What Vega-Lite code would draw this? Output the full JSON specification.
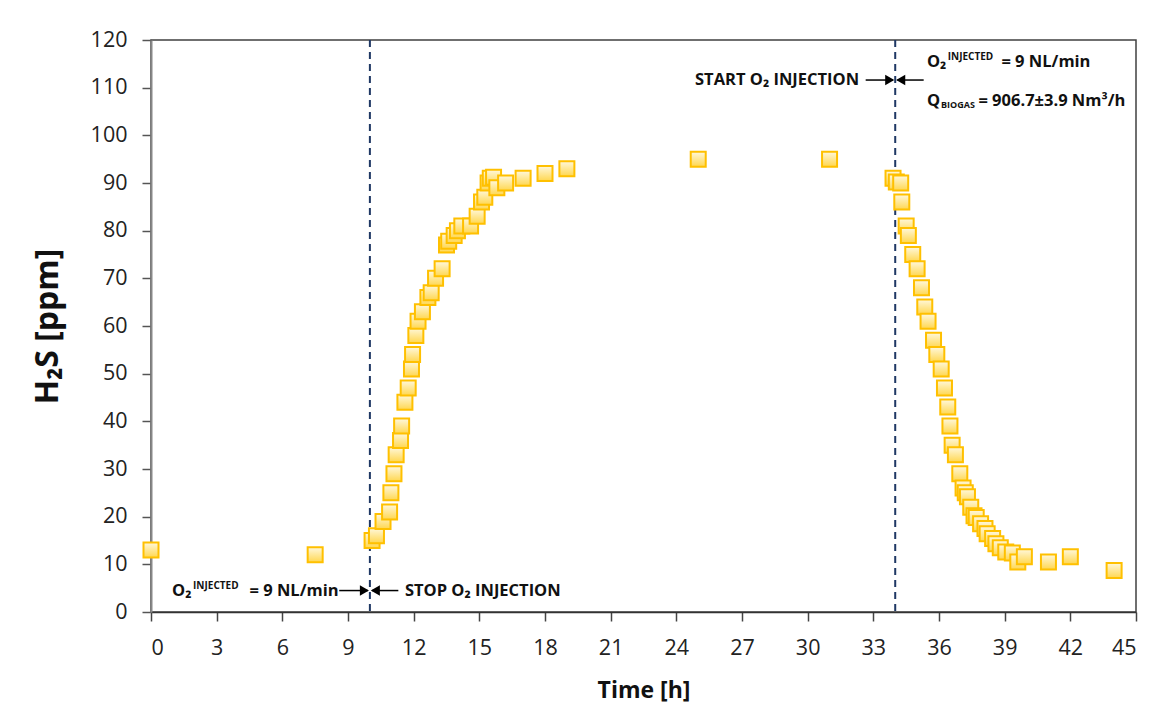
{
  "$schema": "https://vega.github.io/schema/vega-lite/v6.json",
  "autosize": "none",
  "padding": {"left": 151, "top": 40, "right": 31, "bottom": 98},
  "width": 985,
  "height": 572,
  "background": "white",
  "config": {
    "view": {"stroke": "#404040", "strokeWidth": 1.5},
    "font": "Open Sans"
  },
  "datasets": {
    "h2s": [
      {"t": 0, "ppm": 13}, {"t": 7.5, "ppm": 12},
      {"t": 10.1, "ppm": 15}, {"t": 10.3, "ppm": 16}, {"t": 10.6, "ppm": 19}, {"t": 10.9, "ppm": 21},
      {"t": 10.96, "ppm": 25}, {"t": 11.1, "ppm": 29}, {"t": 11.2, "ppm": 33}, {"t": 11.4, "ppm": 36},
      {"t": 11.45, "ppm": 39}, {"t": 11.6, "ppm": 44}, {"t": 11.75, "ppm": 47}, {"t": 11.9, "ppm": 51},
      {"t": 11.95, "ppm": 54}, {"t": 12.1, "ppm": 58}, {"t": 12.2, "ppm": 61}, {"t": 12.4, "ppm": 63},
      {"t": 12.65, "ppm": 66}, {"t": 12.8, "ppm": 67}, {"t": 13.0, "ppm": 70}, {"t": 13.3, "ppm": 72},
      {"t": 13.5, "ppm": 77}, {"t": 13.6, "ppm": 77.8}, {"t": 13.85, "ppm": 79}, {"t": 14.0, "ppm": 80},
      {"t": 14.2, "ppm": 81}, {"t": 14.6, "ppm": 81}, {"t": 14.9, "ppm": 83}, {"t": 15.1, "ppm": 86},
      {"t": 15.25, "ppm": 87}, {"t": 15.4, "ppm": 90}, {"t": 15.5, "ppm": 91}, {"t": 15.65, "ppm": 91.2},
      {"t": 15.8, "ppm": 89}, {"t": 16.2, "ppm": 90}, {"t": 17.0, "ppm": 91}, {"t": 18.0, "ppm": 92},
      {"t": 19.0, "ppm": 93}, {"t": 25.0, "ppm": 95}, {"t": 31.0, "ppm": 95},
      {"t": 33.9, "ppm": 91}, {"t": 34.05, "ppm": 90.2}, {"t": 34.25, "ppm": 90}, {"t": 34.3, "ppm": 86},
      {"t": 34.5, "ppm": 81}, {"t": 34.6, "ppm": 79}, {"t": 34.8, "ppm": 75}, {"t": 35.0, "ppm": 72},
      {"t": 35.2, "ppm": 68}, {"t": 35.35, "ppm": 64}, {"t": 35.5, "ppm": 61}, {"t": 35.75, "ppm": 57},
      {"t": 35.9, "ppm": 54}, {"t": 36.1, "ppm": 51}, {"t": 36.25, "ppm": 47}, {"t": 36.4, "ppm": 43},
      {"t": 36.5, "ppm": 39}, {"t": 36.6, "ppm": 35}, {"t": 36.75, "ppm": 33}, {"t": 36.95, "ppm": 29},
      {"t": 37.1, "ppm": 26}, {"t": 37.2, "ppm": 25}, {"t": 37.3, "ppm": 24.2}, {"t": 37.45, "ppm": 22},
      {"t": 37.6, "ppm": 20.2}, {"t": 37.7, "ppm": 19.8}, {"t": 37.9, "ppm": 18.5}, {"t": 38.1, "ppm": 17.5},
      {"t": 38.2, "ppm": 16.4}, {"t": 38.45, "ppm": 15.4}, {"t": 38.6, "ppm": 14.3}, {"t": 38.8, "ppm": 13.5},
      {"t": 39.05, "ppm": 12.6}, {"t": 39.35, "ppm": 12.4}, {"t": 39.6, "ppm": 10.5}, {"t": 39.9, "ppm": 11.6},
      {"t": 41.0, "ppm": 10.5}, {"t": 42.0, "ppm": 11.6}, {"t": 44.0, "ppm": 8.7}
    ]
  },
  "layer": [
    {
      "data": {"values": [{"t": 10}, {"t": 34}]},
      "mark": {"type": "rule", "color": "#1F3864", "strokeWidth": 2, "strokeDash": [7, 5]},
      "encoding": {
        "x": {"field": "t", "type": "quantitative", "scale": {"domain": [0, 45], "nice": false}}
      }
    },
    {
      "data": {"name": "h2s"},
      "mark": {
        "type": "point", "shape": "square", "size": 225, "filled": true, "opacity": 1,
        "fill": {"gradient": "linear", "x1": 0, "y1": 0, "x2": 0, "y2": 1,
          "stops": [{"offset": 0, "color": "#FFF8DC"}, {"offset": 1, "color": "#FFD750"}]},
        "stroke": "#FFC000", "strokeWidth": 2
      },
      "encoding": {
        "x": {
          "field": "t", "type": "quantitative",
          "scale": {"domain": [0, 45], "nice": false},
          "axis": {
            "title": "Time [h]", "values": [0, 3, 6, 9, 12, 15, 18, 21, 24, 27, 30, 33, 36, 39, 42, 45],
            "grid": false, "domainColor": "#333", "domainWidth": 1.5,
            "tickColor": "#444", "tickSize": 9, "tickWidth": 1.5,
            "labelFont": "Open Sans", "labelFontSize": 21.5, "labelColor": "#222", "labelPadding": 16,
            "titleFont": "Open Sans", "titleFontSize": 23, "titleFontWeight": "bold", "titleColor": "#111", "titlePadding": 21
          }
        },
        "y": {
          "field": "ppm", "type": "quantitative",
          "scale": {"domain": [0, 120], "nice": false},
          "axis": {
            "title": "H₂S [ppm]", "values": [0, 10, 20, 30, 40, 50, 60, 70, 80, 90, 100, 110, 120],
            "grid": false, "domainColor": "#888", "domainWidth": 2,
            "tickColor": "#555", "tickSize": 9, "tickWidth": 1.5,
            "labelFont": "Open Sans", "labelFontSize": 21.5, "labelColor": "#222", "labelPadding": 15,
            "titleFont": "Open Sans", "titleFontSize": 32, "titleFontWeight": "bold", "titleColor": "#111", "titlePadding": 26
          }
        }
      }
    },
    {
      "data": {"values": [
        {"a": 8.6, "b": 9.9, "y": 4.5},
        {"a": 10.1, "b": 11.3, "y": 4.5},
        {"a": 32.65, "b": 33.9, "y": 111.6},
        {"a": 34.1, "b": 35.3, "y": 111.6}
      ]},
      "mark": {"type": "rule", "color": "#000", "strokeWidth": 1.5},
      "encoding": {
        "x": {"field": "a", "type": "quantitative"},
        "x2": {"field": "b"},
        "y": {"field": "y", "type": "quantitative"}
      }
    },
    {
      "data": {"values": [{"x": 9.75, "y": 4.5}, {"x": 33.75, "y": 111.6}]},
      "mark": {"type": "point", "shape": "triangle-right", "size": 110, "filled": true, "color": "#000", "opacity": 1},
      "encoding": {
        "x": {"field": "x", "type": "quantitative"},
        "y": {"field": "y", "type": "quantitative"}
      }
    },
    {
      "data": {"values": [{"x": 10.25, "y": 4.5}, {"x": 34.25, "y": 111.6}]},
      "mark": {"type": "point", "shape": "triangle-left", "size": 110, "filled": true, "color": "#000", "opacity": 1},
      "encoding": {
        "x": {"field": "x", "type": "quantitative"},
        "y": {"field": "y", "type": "quantitative"}
      }
    },
    {
      "data": {"values": [
        {"label": "O₂", "x": 0.96, "y": 4.5},
        {"label": "= 9 NL/min", "x": 4.5, "y": 4.5},
        {"label": "STOP O₂ INJECTION", "x": 11.6, "y": 4.5},
        {"label": "O₂", "x": 35.45, "y": 115.4},
        {"label": "= 9 NL/min", "x": 38.85, "y": 115.4},
        {"label": "Q", "x": 35.45, "y": 107.2},
        {"label": "= 906.7±3.9 Nm³/h", "x": 37.8, "y": 107.2}
      ]},
      "mark": {"type": "text", "align": "left", "baseline": "middle", "font": "Open Sans", "fontSize": 16.5, "fontWeight": "bold", "color": "#111"},
      "encoding": {
        "x": {"field": "x", "type": "quantitative"},
        "y": {"field": "y", "type": "quantitative"},
        "text": {"field": "label"}
      }
    },
    {
      "data": {"values": [{"label": "START O₂ INJECTION", "x": 32.35, "y": 111.6}]},
      "mark": {"type": "text", "align": "right", "baseline": "middle", "font": "Open Sans", "fontSize": 16.5, "fontWeight": "bold", "color": "#111"},
      "encoding": {
        "x": {"field": "x", "type": "quantitative"},
        "y": {"field": "y", "type": "quantitative"},
        "text": {"field": "label"}
      }
    },
    {
      "data": {"values": [
        {"label": "INJECTED", "x": 1.92, "y": 5.5},
        {"label": "INJECTED", "x": 36.4, "y": 116.4}
      ]},
      "mark": {"type": "text", "align": "left", "baseline": "middle", "font": "Open Sans", "fontSize": 10, "fontWeight": "bold", "color": "#111"},
      "encoding": {
        "x": {"field": "x", "type": "quantitative"},
        "y": {"field": "y", "type": "quantitative"},
        "text": {"field": "label"}
      }
    },
    {
      "data": {"values": [{"label": "BIOGAS", "x": 36.09, "y": 106.3}]},
      "mark": {"type": "text", "align": "left", "baseline": "middle", "font": "Open Sans", "fontSize": 9, "fontWeight": "bold", "color": "#111"},
      "encoding": {
        "x": {"field": "x", "type": "quantitative"},
        "y": {"field": "y", "type": "quantitative"},
        "text": {"field": "label"}
      }
    }
  ]
}
